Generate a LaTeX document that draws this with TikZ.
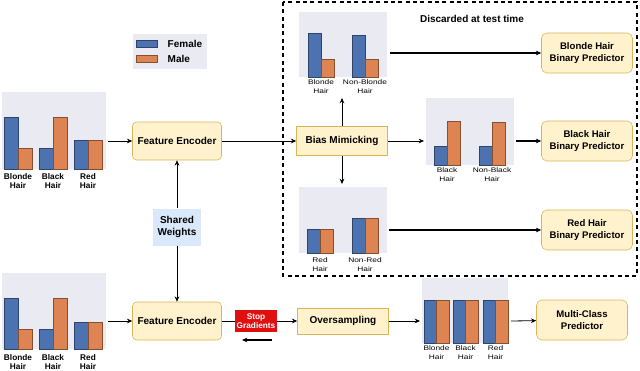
\documentclass[tikz,border=0pt]{standalone}
\usepackage{fontspec}
\setmainfont{Liberation Sans}
\newfontfamily\chartfont[FakeStretch=1.25]{Liberation Sans}
\usetikzlibrary{arrows.meta}
\definecolor{female}{HTML}{4C72B0}
\definecolor{male}{HTML}{DD8452}
\definecolor{plotbg}{HTML}{EAEAF2}
\definecolor{boxfill}{HTML}{FFF2CC}
\definecolor{boxline}{HTML}{D6B656}
\definecolor{sharedfill}{HTML}{DAE8FC}
\definecolor{stopred}{HTML}{E01010}

\begin{document}
\begin{tikzpicture}[x=0.75pt,y=-0.75pt,>={Stealth[length=4pt,width=3.5pt]},
    encoder/.style={draw=boxline,fill=boxfill,rounded corners=3pt,minimum width=66.75pt,minimum height=28.5pt,font=\fontsize{7.5}{9}\selectfont\bfseries},
    module/.style={draw=boxline,fill=boxfill,minimum width=68.25pt,font=\fontsize{7.5}{9}\selectfont\bfseries},
    predictor/.style={draw=boxline,fill=boxfill,rounded corners=4pt,minimum width=68.25pt,minimum height=30pt,align=center,font=\fontsize{7.2}{9}\selectfont\bfseries},
    fem/.style={fill=female,draw=female!60!black,line width=0.3pt},
    mal/.style={fill=male,draw=male!60!black,line width=0.3pt},
    biglbl/.style={align=center,inner sep=0pt,font=\fontsize{6.2}{6.8}\selectfont\bfseries},
    smalllbl/.style={align=center,inner sep=0pt,font=\chartfont\fontsize{5}{6.4}\selectfont},
    link/.style={->,line width=0.6pt}]
      \useasboundingbox (0,0) rectangle (640,371);

      % legend
      \fill[plotbg] (133,34) rectangle (207,69);
      \filldraw[fem] (136,40) rectangle (157,47);
      \filldraw[mal] (136,55) rectangle (157,62);
      \node[anchor=west,font=\fontsize{7.5}{9}\selectfont\bfseries] (legf) at (163,43.5) {Female};
      \node[anchor=west,font=\fontsize{7.5}{9}\selectfont\bfseries] (legm) at (163,58.5) {Male};

      % input distributions
      \fill[plotbg] (2,92) rectangle (106,169);
      \foreach \x/\b/\o/\t [count=\i] in {4/117/148/Blonde,39/148/117/Black,74/140/140/Red}{
        \filldraw[fem] (\x,\b) rectangle ({\x+14},169);
        \filldraw[mal] ({\x+14},\o) rectangle ({\x+28},169);
        \node[biglbl] (ta\i) at ({\x+14},181) {\t\\Hair};
      }
      \fill[plotbg] (2,273) rectangle (106,349);
      \foreach \x/\b/\o/\t [count=\i] in {4/298/329/Blonde,39/329/298/Black,74/322/322/Red}{
        \filldraw[fem] (\x,\b) rectangle ({\x+14},349);
        \filldraw[mal] ({\x+14},\o) rectangle ({\x+28},349);
        \node[biglbl] (tb\i) at ({\x+14},362) {\t\\Hair};
      }
      \coordinate (ca) at (108,141);
      \coordinate (cb) at (108,321);

      % discarded branch
      \draw[line width=0.9pt,dash pattern=on 3pt off 2.5pt] (283,2) rectangle (637,276);
      \node[font=\fontsize{7.5}{9}\selectfont\bfseries] (disc) at (472,19) {Discarded at test time};

      \fill[plotbg] (299,12) rectangle (387,77);
      \foreach \x/\b/\o/\t [count=\i] in {308/33/59/Blonde,352/35/59/Non-Blonde}{
        \filldraw[fem] (\x,\b) rectangle ({\x+13},77);
        \filldraw[mal] ({\x+13},\o) rectangle ({\x+26},77);
        \node[smalllbl] (tc\i) at ({\x+13},86.5) {\t\\Hair};
      }
      \fill[plotbg] (426,98) rectangle (514,165);
      \foreach \x/\b/\o/\t [count=\i] in {434/146/121/Black,479/146/122/Non-Black}{
        \filldraw[fem] (\x,\b) rectangle ({\x+13},165);
        \filldraw[mal] ({\x+13},\o) rectangle ({\x+26},165);
        \node[smalllbl] (td\i) at ({\x+13},174.5) {\t\\Hair};
      }
      \fill[plotbg] (299,187) rectangle (387,253);
      \foreach \x/\b/\o/\t [count=\i] in {307/229/229/Red,352/218/218/Non-Red}{
        \filldraw[fem] (\x,\b) rectangle ({\x+13},253);
        \filldraw[mal] ({\x+13},\o) rectangle ({\x+26},253);
        \node[smalllbl] (te\i) at ({\x+13},264.5) {\t\\Hair};
      }
      \coordinate (bup) at (342,98);
      \coordinate (bdown) at (342,184);
      \coordinate (kin) at (424,141);
      \coordinate (bout) at (390,53);
      \coordinate (kout) at (516,141);
      \coordinate (rout) at (389,230);

      % oversampled distribution
      \fill[plotbg] (422,278) rectangle (508,343);
      \foreach \x/\t [count=\i] in {424/Blonde,453/Black,483/Red}{
        \filldraw[fem] (\x,300) rectangle ({\x+12.5},343);
        \filldraw[mal] ({\x+12.5},300) rectangle ({\x+25},343);
        \node[smalllbl] (tf\i) at ({\x+12.5},352.5) {\t\\Hair};
      }
      \coordinate (min) at (420,321);
      \coordinate (mout) at (511,321);

      % blocks
      \node[encoder] (enc1) at (177,141) {Feature Encoder};
      \node[encoder] (enc2) at (177,321) {Feature Encoder};
      \node[fill=sharedfill,minimum width=36pt,minimum height=27.75pt,align=center,font=\fontsize{7.5}{9}\selectfont\bfseries] (shared) at (177,227) {Shared\\Weights};
      \node[fill=stopred,text=white,minimum width=30.75pt,minimum height=16.5pt,inner sep=1pt,align=center,font=\fontsize{6.2}{6.75}\selectfont\bfseries] (stop) at (256,321) {Stop\\Gradients};
      \node[module,minimum height=21.75pt] (bm) at (342,141) {Bias Mimicking};
      \node[module,minimum height=19.5pt] (over) at (343,321) {Oversampling};
      \node[predictor] (pb) at (587,53) {Blonde Hair\\Binary Predictor};
      \node[predictor] (pk) at (587,141) {Black Hair\\Binary Predictor};
      \node[predictor] (pr) at (587,230) {Red Hair\\Binary Predictor};
      \node[predictor] (pm) at (582,320) {Multi-Class\\Predictor};

      % connectors
      \draw[link] (ca) -- (enc1);
      \draw[link] (cb) -- (enc2);
      \draw[link] (shared) -- (enc1);
      \draw[link] (shared) -- (enc2);
      \draw[link] (enc1) -- (bm);
      \draw[line width=0.6pt] (enc2) -- (stop);
      \draw[link] (stop) -- (over);
      \draw[link] (bm) -- (bup);
      \draw[link] (bm) -- (bdown);
      \draw[link] (bm) -- (kin);
      \draw[link,line width=0.8pt] (bout) -- (pb);
      \draw[link,line width=0.8pt] (kout) -- (pk);
      \draw[link,line width=0.8pt] (rout) -- (pr);
      \draw[link] (over) -- (min);
      \draw[link] (mout) -- (pm);
      \coordinate (sgr) at (272,340);
      \coordinate (sgl) at (242,340);
      \draw[link,line width=0.8pt] (sgr) -- (sgl);
    \end{tikzpicture}
\end{document}
